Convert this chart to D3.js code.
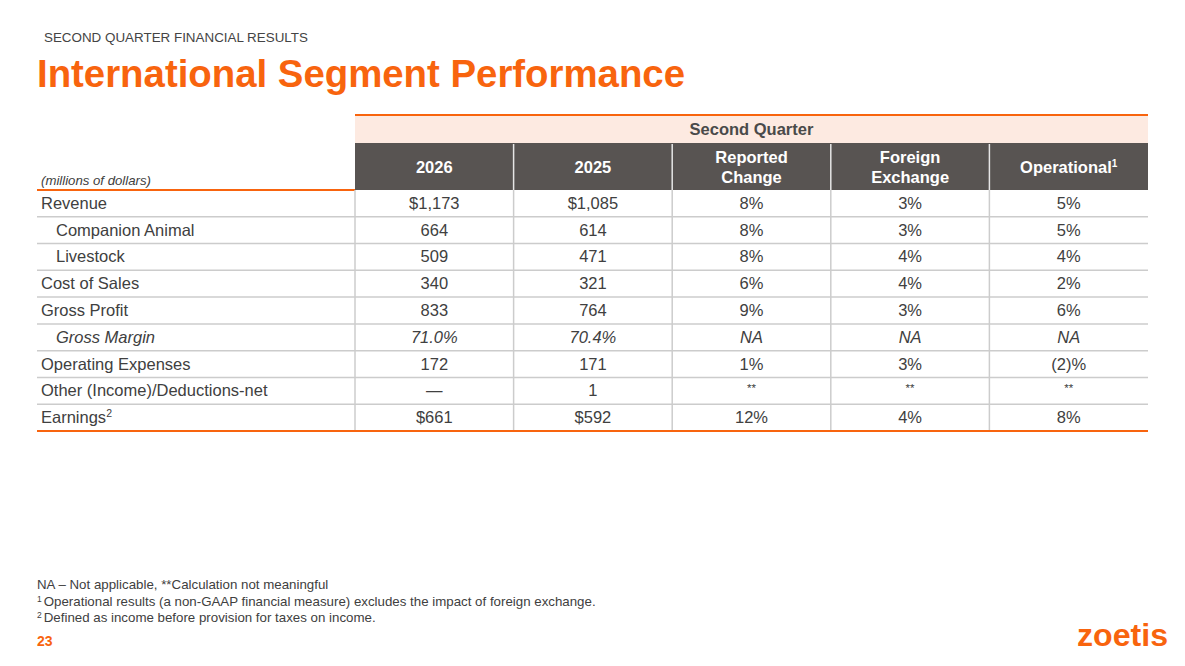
<!DOCTYPE html>
<html>
<head>
<meta charset="utf-8">
<script src="https://cdn.jsdelivr.net/npm/d3@7"></script>
<style>
  body { margin: 0; background: #fff; }
  svg text { font-family: "Liberation Sans", Arial, sans-serif; }
</style>
</head>
<body>
<svg id="chart" width="1185" height="666"></svg>
<script>
// row labels and table values (millions of dollars)
var rowLabels = ["Revenue", "Companion Animal", "Livestock", "Cost of Sales", "Gross Profit",
  "Gross Margin", "Operating Expenses", "Other (Income)/Deductions-net", "Earnings"];
var indented = [false, true, true, false, false, true, false, false, false];
var italicRows = [false, false, false, false, false, true, false, false, false];
var columns = ["2026", "2025", "Reported|Change", "Foreign|Exchange", "Operational"];
var col2026 = ["$1,173", "664", "509", "340", "833", "71.0%", "172", "\u2014", "$661"];
var col2025 = ["$1,085", "614", "471", "321", "764", "70.4%", "171", "1", "$592"];
var reported = ["8%", "8%", "8%", "6%", "9%", "NA", "1%", "**", "12%"];
var foreignEx = ["3%", "3%", "4%", "4%", "3%", "NA", "3%", "**", "4%"];
var operational = ["5%", "5%", "4%", "2%", "6%", "NA", "(2)%", "**", "8%"];
var footnotes = [
  {sup: "", text: "NA \u2013 Not applicable, **Calculation not meaningful"},
  {sup: "1", text: "Operational results (a non-GAAP financial measure) excludes the impact of foreign exchange."},
  {sup: "2", text: "Defined as income before provision for taxes on income."}
];

var orange = "#f8640e", dark = "#585452", txt = "#404040", grid = "#cccccc";
var svg = d3.select("#chart");

// headings
svg.append("text").attr("x", 44).attr("y", 42).attr("font-size", 13.4).attr("fill", "#444")
  .text("SECOND QUARTER FINANCIAL RESULTS");
svg.append("text").attr("x", 37).attr("y", 87)
  .attr("font-size", 38).attr("font-weight", "bold").attr("fill", orange)
  .attr("textLength", 648).attr("lengthAdjust", "spacingAndGlyphs")
  .text("International Segment Performance");

// table geometry via scales
var left = 37, labelRight = 355, right = 1148;
var x = d3.scaleBand().domain(d3.range(columns.length)).range([labelRight, right]);
var y = d3.scaleBand().domain(d3.range(rowLabels.length)).range([190, 431]);
var bw = x.bandwidth(), bh = y.bandwidth();

// "Second Quarter" band
svg.append("rect").attr("x", labelRight).attr("y", 115).attr("width", right - labelRight)
  .attr("height", 28).attr("fill", "#fdeae1");
svg.append("line").attr("x1", labelRight).attr("x2", right).attr("y1", 115).attr("y2", 115)
  .attr("stroke", orange).attr("stroke-width", 2);
svg.append("text").attr("x", (labelRight + right) / 2).attr("y", 135)
  .attr("text-anchor", "middle").attr("font-size", 16.5).attr("font-weight", "bold").attr("fill", "#4a4a4a")
  .text("Second Quarter");

// dark column header
svg.append("rect").attr("x", labelRight).attr("y", 143).attr("width", right - labelRight)
  .attr("height", 47).attr("fill", dark);
var head = svg.append("g").selectAll("g").data(columns).join("g")
  .attr("transform", function(d, i) { return "translate(" + (x(i) + bw / 2) + ",0)"; });
head.each(function(d, i) {
  var g = d3.select(this);
  var lines = d.split("|");
  var t = g.append("text").attr("text-anchor", "middle")
    .attr("font-size", 16.5).attr("font-weight", "bold").attr("fill", "#fff");
  if (lines.length === 2) {
    t.append("tspan").attr("x", 0).attr("y", 163).text(lines[0]);
    t.append("tspan").attr("x", 0).attr("y", 183).text(lines[1]);
  } else {
    t.attr("y", 173).text(d);
    if (d === "Operational") t.append("tspan").attr("font-size", 10).attr("dy", -6).text("1");
  }
});
head.filter(function(d, i) { return i > 0; }).append("line")
  .attr("x1", -bw / 2).attr("x2", -bw / 2).attr("y1", 144).attr("y2", 190)
  .attr("stroke", "#e6e6e6").attr("stroke-width", 1.5);

svg.append("text").attr("x", 41).attr("y", 185).attr("font-size", 13.2).attr("font-style", "italic")
  .attr("fill", txt).text("(millions of dollars)");
svg.append("line").attr("x1", left).attr("x2", labelRight).attr("y1", 190).attr("y2", 190)
  .attr("stroke", orange).attr("stroke-width", 2);

// body rows
var series = [col2026, col2025, reported, foreignEx, operational];
var body = svg.append("g");
body.selectAll("line.row").data(d3.range(1, rowLabels.length)).join("line").attr("class", "row")
  .attr("x1", left).attr("x2", right).attr("y1", function(i) { return y(i); }).attr("y2", function(i) { return y(i); })
  .attr("stroke", grid).attr("stroke-width", 1.5);
body.selectAll("line.col").data(d3.range(columns.length)).join("line").attr("class", "col")
  .attr("x1", function(i) { return x(i); }).attr("x2", function(i) { return x(i); })
  .attr("y1", 190).attr("y2", 431).attr("stroke", grid).attr("stroke-width", 1.5);

var rows = body.selectAll("g.r").data(rowLabels).join("g").attr("class", "r")
  .attr("transform", function(d, i) { return "translate(0," + (y(i) + bh / 2 + 5.5) + ")"; });
rows.append("text")
  .attr("x", function(d, i) { return indented[i] ? 56 : 41; })
  .attr("font-size", 16.5).attr("fill", txt)
  .attr("font-style", function(d, i) { return italicRows[i] ? "italic" : "normal"; })
  .each(function(d) {
    d3.select(this).text(d);
    if (d === "Earnings") d3.select(this).append("tspan").attr("font-size", 10.5).attr("dy", -6).text("2");
  });
rows.each(function(d, r) {
  var g = d3.select(this);
  series.forEach(function(col, c) {
    var v = col[r];
    g.append("text").attr("x", x(c) + bw / 2).attr("text-anchor", "middle")
      .attr("font-size", v === "**" ? 11.5 : 16.5).attr("fill", txt)
      .attr("dy", v === "**" ? -4 : 0)
      .attr("font-style", italicRows[r] ? "italic" : "normal")
      .text(v);
  });
});
svg.append("line").attr("x1", left).attr("x2", right).attr("y1", 431).attr("y2", 431)
  .attr("stroke", orange).attr("stroke-width", 2);

// footnotes
var fn = svg.append("g").selectAll("text").data(footnotes).join("text")
  .attr("x", 37).attr("y", function(d, i) { return 589 + i * 16.5; })
  .attr("font-size", 13.3).attr("fill", txt);
fn.append("tspan").attr("font-size", 8.5).attr("dy", -4).text(function(d) { return d.sup; });
fn.append("tspan").attr("dy", function(d) { return d.sup ? 4 : 0; })
  .attr("dx", function(d) { return d.sup ? 2 : 0; }).text(function(d) { return d.text; });

svg.append("text").attr("x", 37).attr("y", 646).attr("font-size", 14).attr("font-weight", "bold")
  .attr("fill", orange).text("23");

// logo wordmark
svg.append("text").attr("x", 1077).attr("y", 646).attr("font-size", 31).attr("font-weight", "bold")
  .attr("fill", orange).attr("font-family", "Lato, sans-serif")
  .attr("textLength", 91).attr("lengthAdjust", "spacingAndGlyphs").text("zoetis");
</script>
</body>
</html>
